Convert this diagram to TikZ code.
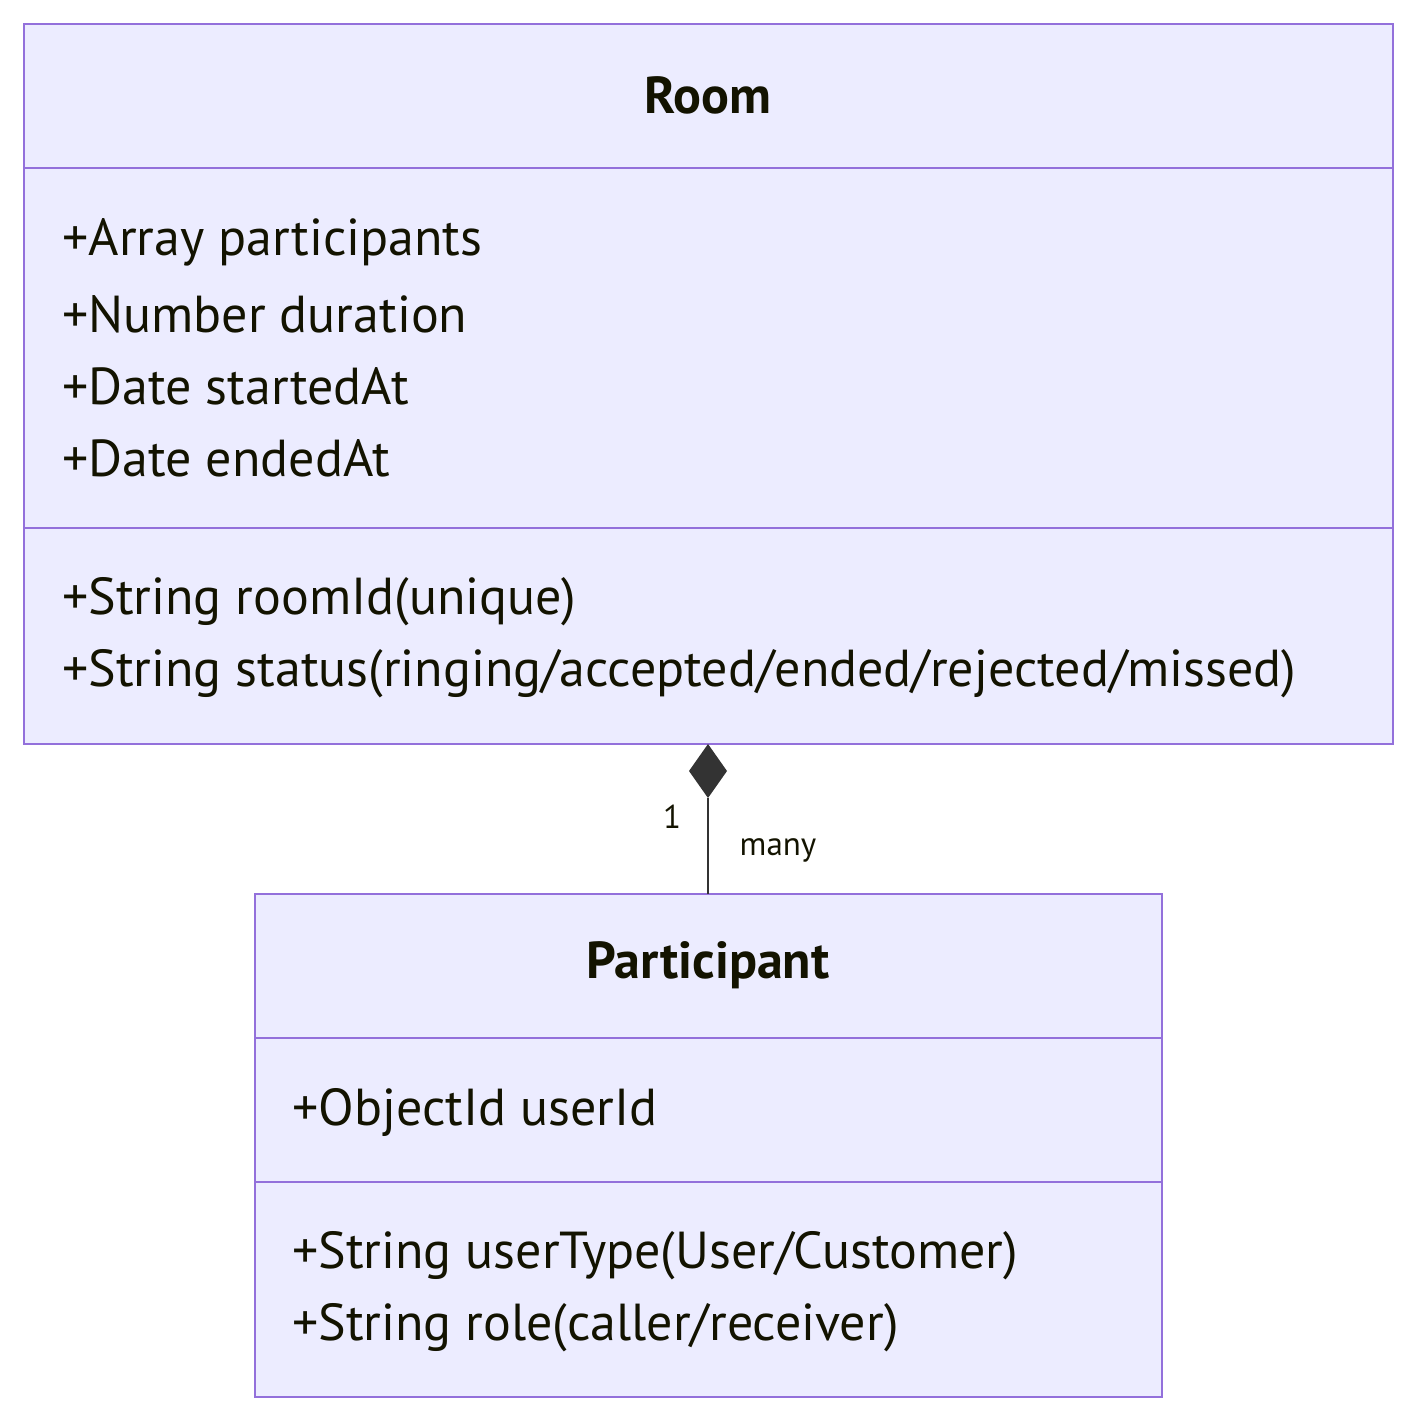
\documentclass[tikz,border=0pt]{standalone}
\usepackage{fontspec}
\setmainfont{PT Sans}
\usetikzlibrary{positioning}
\definecolor{classfill}{HTML}{ECECFF}
\definecolor{classline}{HTML}{9370DB}
\definecolor{classtext}{HTML}{131300}
\definecolor{linkdark}{HTML}{333333}
\tikzset{
  classbox/.style = {
    draw=classline,
    fill=classfill,
    line width=1pt
  },
  divider/.style = {
    draw=classline,
    line width=1pt
  },
  title/.style = {
    font=\fontsize{26}{30}\selectfont\bfseries,
    text=classtext
  },
  member/.style = {
    anchor=west,
    inner sep=0pt,
    yshift=-1.5pt,
    font=\fontsize{26}{30}\selectfont,
    text=classtext
  },
  mult/.style = {
    inner sep=0pt,
    font=\fontsize{16.5}{19}\selectfont,
    text=classtext
  },
  link/.style = {
    draw=linkdark,
    line width=1.1pt
  }
}

\begin{document}
\begin{tikzpicture}[x=0.5pt, y=-0.5pt]
\useasboundingbox (0,0) rectangle (1417,1422);

% ===== Room =====
\draw [classbox] (24,24) rectangle (1393,744);
\draw [divider] (24,168) -- (1393,168);
\draw [divider] (24,528) -- (1393,528);
\node (room) [title] at (708,95) {Room};
\node (r1) [member] at (62,239) {+Array participants};
\node (r2) [member] at (62,311) {+Number duration};
\node (r3) [member] at (62,383) {+Date startedAt};
\node (r4) [member] at (62,455) {+Date endedAt};
\node (r5) [member] at (62,599) {+String roomId(unique)};
\node (r6) [member] at (62,671) {+String status(ringing/accepted/ended/rejected/missed)};

% ===== Participant =====
\draw [classbox] (255,894) rectangle (1162,1397);
\draw [divider] (255,1038) -- (1162,1038);
\draw [divider] (255,1182) -- (1162,1182);
\node (part) [title] at (708,965) {Participant};
\node (p1) [member] at (292,1109) {+ObjectId userId};
\node (p2) [member] at (292,1253) {+String userType(User/Customer)};
\node (p3) [member] at (292,1325) {+String role(caller/receiver)};

% ===== Composicao =====
\coordinate (roomend) at (708,744);
\coordinate (diamondend) at (708,798);
\coordinate (partend) at (708,894);
\draw [link] (diamondend) -- (partend);
\fill [linkdark] (roomend) -- (727,771) -- (diamondend) -- (689,771) -- cycle;
\node (one) [mult] at (672,817) {1};
\node (many) [mult] at (778,850) {many};

\end{tikzpicture}
\end{document}
